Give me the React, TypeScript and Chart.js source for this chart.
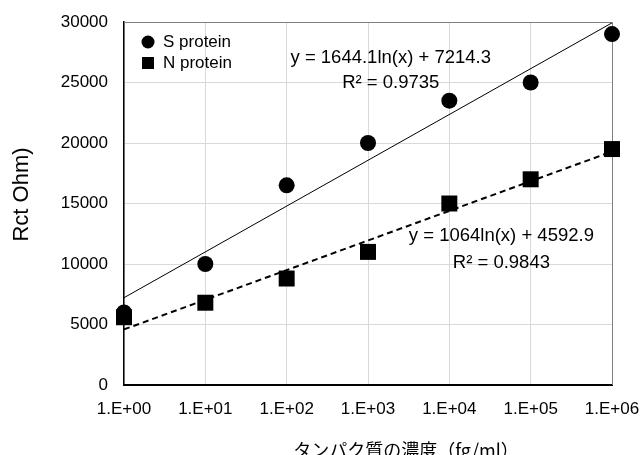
import React, { useEffect, useRef } from 'react';
import { Chart, registerables } from 'chart.js';

Chart.register(...registerables);

const concentrations = [1, 10, 100, 1000, 10000, 100000, 1000000];
const xTickLabels = ['1.E+00', '1.E+01', '1.E+02', '1.E+03', '1.E+04', '1.E+05', '1.E+06'];
const sProtein = [6000, 10000, 16500, 20000, 23500, 25000, 29000];
const nProtein = [5600, 6800, 8800, 11000, 15000, 17000, 19500];
const sFitCoef = [1644.1, 7214.3];
const nFitCoef = [1064, 4592.9];
const seriesLabels = ['S protein', 'N protein'];
const sEquation = ['y = 1644.1ln(x) + 7214.3', 'R² = 0.9735'];
const nEquation = ['y = 1064ln(x) + 4592.9', 'R² = 0.9843'];
const yTitle = 'Rct Ohm)';
const xTitle = 'タンパク質の濃度（fg/ml）';

const LATIN = '"Liberation Sans", Arial, sans-serif';
const CJK = '"Noto Sans CJK JP", "Liberation Sans", sans-serif';

const fitEnds = (coef: number[]) => {
  const xs = [concentrations[0], concentrations[concentrations.length - 1]];
  return xs.map((x) => ({ x, y: coef[0] * Math.log(x) + coef[1] }));
};

const overlay = {
  id: 'overlay',
  beforeDatasetsDraw(chart: any) {
    const { ctx, chartArea: ca } = chart;
    ctx.save();
    ctx.strokeStyle = '#808080';
    ctx.lineWidth = 1;
    ctx.beginPath();
    ctx.moveTo(ca.left, Math.round(ca.top) + 0.5);
    ctx.lineTo(Math.round(ca.right) + 0.5, Math.round(ca.top) + 0.5);
    ctx.lineTo(Math.round(ca.right) + 0.5, ca.bottom);
    ctx.stroke();
    ctx.restore();
  },
  afterDatasetsDraw(chart: any) {
    const { ctx, chartArea: ca, scales } = chart;
    const xs = scales.x;
    const ys = scales.y;
    ctx.save();
    ctx.fillStyle = '#000';
    ctx.textBaseline = 'middle';
    // trendline equations
    ctx.font = `18.5px ${LATIN}`;
    ctx.textAlign = 'center';
    const sx = xs.getPixelForValue(Math.pow(10, 3.28));
    ctx.fillText(sEquation[0], sx, ys.getPixelForValue(27025));
    ctx.fillText(sEquation[1], sx, ys.getPixelForValue(24960));
    const nx = xs.getPixelForValue(Math.pow(10, 4.64));
    ctx.fillText(nEquation[0], nx, ys.getPixelForValue(12314));
    ctx.fillText(nEquation[1], nx, ys.getPixelForValue(10083));

    // legend
    const lx = ca.left + 24;
    const ly1 = ca.top + 20;
    const ly2 = ca.top + 41;
    ctx.beginPath();
    ctx.arc(lx, ly1, 6.5, 0, Math.PI * 2);
    ctx.fill();
    ctx.fillRect(lx - 6, ly2 - 6, 12, 12);
    ctx.font = `17px ${LATIN}`;
    ctx.textAlign = 'left';
    ctx.fillText(seriesLabels[0], ca.left + 39, ly1);
    ctx.fillText(seriesLabels[1], ca.left + 39, ly2);

    // axis titles
    ctx.font = `22px ${LATIN}`;
    ctx.textAlign = 'center';
    ctx.save();
    ctx.translate(22, (ca.top + ca.bottom) / 2 - 9);
    ctx.rotate(-Math.PI / 2);
    ctx.fillText(yTitle, 0, 0);
    ctx.restore();
    ctx.font = `18px ${CJK}`;
    ctx.fillText(xTitle, ca.left + 0.578 * (ca.right - ca.left), 450);
    ctx.restore();
  },
};

export default function App() {
  const ref = useRef<HTMLCanvasElement | null>(null);
  useEffect(() => {
    if (!ref.current) return;
    Chart.defaults.color = '#000';
    const chart = new Chart(ref.current, {
      type: 'scatter',
      data: {
        datasets: [
          {
            label: seriesLabels[0],
            data: concentrations.map((x, i) => ({ x, y: sProtein[i] })),
            pointStyle: 'circle',
            pointRadius: 8,
            pointHoverRadius: 8,
            backgroundColor: '#000',
            borderColor: '#000',
            borderWidth: 0,
            clip: false,
            order: 1,
          } as any,
          {
            label: seriesLabels[1],
            data: concentrations.map((x, i) => ({ x, y: nProtein[i] })),
            pointStyle: 'rect',
            pointRadius: 11.3,
            pointHoverRadius: 11.3,
            backgroundColor: '#000',
            borderColor: '#000',
            borderWidth: 0,
            clip: false,
            order: 1,
          } as any,
          {
            type: 'line',
            label: 'S fit',
            data: fitEnds(sFitCoef),
            showLine: true,
            borderColor: '#000',
            borderWidth: 1,
            pointRadius: 0,
            order: 2,
          } as any,
          {
            type: 'line',
            label: 'N fit',
            data: fitEnds(nFitCoef),
            showLine: true,
            borderColor: '#000',
            borderWidth: 2,
            borderDash: [6, 4],
            pointRadius: 0,
            order: 2,
          } as any,
        ],
      },
      options: {
        animation: false,
        responsive: true,
        maintainAspectRatio: false,
        layout: { padding: { left: 0, right: 29, top: 22, bottom: 0 } },
        plugins: { legend: { display: false }, tooltip: { enabled: false } },
        scales: {
          x: {
            type: 'logarithmic',
            min: 1,
            max: 1000000,
            afterBuildTicks: (scale: any) => {
              scale.ticks = concentrations.map((v) => ({ value: v }));
            },
            afterFit: (scale: any) => {
              scale.height = 70;
            },
            ticks: {
              autoSkip: false,
              maxRotation: 0,
              padding: 0,
              font: { family: LATIN, size: 17 },
              callback: (_v: any, i: number) => xTickLabels[i],
            },
            grid: { color: '#d9d9d9', drawTicks: true, tickLength: 14, tickColor: 'rgba(0,0,0,0)' },
            border: { color: '#000', width: 2 },
          },
          y: {
            min: 0,
            max: 30000,
            afterFit: (scale: any) => {
              scale.width = 124;
            },
            ticks: {
              stepSize: 5000,
              padding: 0,
              font: { family: LATIN, size: 17 },
              callback: (v: any) => String(v),
            },
            grid: { color: '#d9d9d9', drawTicks: true, tickLength: 16, tickColor: 'rgba(0,0,0,0)' },
            border: { color: '#000', width: 1.5 },
          },
        },
      },
      plugins: [overlay],
    });
    return () => chart.destroy();
  }, []);
  return (
    <div style={{ position: 'absolute', left: 0, top: 0, width: 641, height: 455 }}>
      <canvas ref={ref} />
    </div>
  );
}
